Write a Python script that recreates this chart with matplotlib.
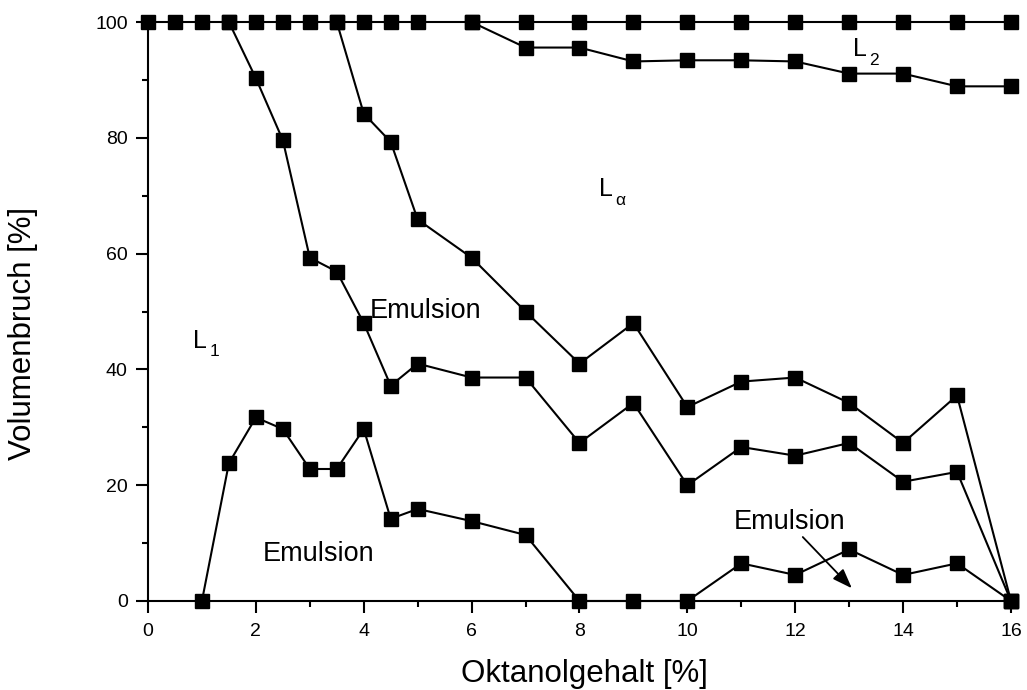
import matplotlib
matplotlib.use("Agg")
import matplotlib.pyplot as plt
import numpy as np

plt.rcParams['font.family'] = ['Liberation Sans', 'DejaVu Sans']

# top line (upper limit, 100 %)
x_top = [0, 0.5, 1, 1.5, 2, 2.5, 3, 3.5, 4, 4.5, 5, 6, 7, 8, 9, 10, 11, 12, 13, 14, 15, 16]
y_top = [100] * len(x_top)

# L2 boundary
x_l2 = [6, 7, 8, 9, 10, 11, 12, 13, 14, 15, 16]
y_l2 = [100, 95.6, 95.6, 93.2, 93.4, 93.4, 93.2, 91.1, 91.1, 88.9, 88.9]

# L_alpha / emulsion boundary
x_la = [3.5, 4, 4.5, 5, 6, 7, 8, 9, 10, 11, 12, 13, 14, 15, 16]
y_la = [100, 84.2, 79.3, 65.9, 59.3, 50.0, 41.0, 48.0, 33.5, 37.9, 38.6, 34.2, 27.3, 35.5, 0]

# middle emulsion boundary
x_em = [1.5, 2, 2.5, 3, 3.5, 4, 4.5, 5, 6, 7, 8, 9, 10, 11, 12, 13, 14, 15, 16]
y_em = [100, 90.3, 79.6, 59.3, 56.9, 48.0, 37.2, 41.0, 38.6, 38.6, 27.3, 34.2, 20.0, 26.6, 25.1, 27.3, 20.6, 22.3, 0]

# lower boundary
x_lo = [1, 1.5, 2, 2.5, 3, 3.5, 4, 4.5, 5, 6, 7, 8, 9, 10, 11, 12, 13, 14, 15, 16]
y_lo = [0, 23.8, 31.7, 29.7, 22.8, 22.8, 29.7, 14.2, 15.9, 13.8, 11.4, 0, 0, 0, 6.5, 4.5, 8.9, 4.5, 6.5, 0]

# region labels: (main, subscript, x, y)
phase_labels = [("L", "1", 0.83, 43.7), ("L", "\u03b1", 8.36, 69.9), ("L", "2", 13.07, 94.1)]
emulsion_labels = [(4.12, 48.9), (2.13, 6.9), (10.86, 12.4)]
arrow_from = (12.14, 11.05)
arrow_to = (13.05, 2.2)

fig = plt.figure(figsize=(10.27, 6.9), dpi=100)
ax = fig.add_axes([0.1441, 0.129, 0.8403, 0.839])

style = dict(color='black', lw=1.5, marker='s', ms=9.5, mfc='black', mec='black', clip_on=False, zorder=3)
for xs, ys in [(x_top, y_top), (x_l2, y_l2), (x_la, y_la), (x_em, y_em), (x_lo, y_lo)]:
    ax.plot(xs, ys, **style)

ax.set_xlim(0, 16)
ax.set_ylim(0, 100)
ax.set_xticks(np.arange(0, 17, 2))
ax.set_xticks(np.arange(1, 16, 2), minor=True)
ax.set_yticks(np.arange(0, 101, 20))
ax.set_yticks(np.arange(10, 100, 20), minor=True)

for s in ['top', 'right']:
    ax.spines[s].set_visible(False)
for s in ['left', 'bottom']:
    ax.spines[s].set_linewidth(1.5)

ax.tick_params(which='major', length=8.5, width=1.5, labelsize=14, direction='out')
ax.tick_params(which='minor', length=4.3, width=1.5, direction='out')
ax.tick_params(axis='x', which='major', pad=7)
ax.tick_params(axis='y', which='major', pad=6)

ax.set_xlabel("Oktanolgehalt [%]", fontsize=22.5)
ax.set_ylabel("Volumenbruch [%]", fontsize=22.5)
ax.xaxis.set_label_coords(0.506, -0.100)
ax.yaxis.set_label_coords(-0.127, 0.463)

for main, sub, x, y in phase_labels:
    ax.text(x, y, main, fontsize=18, va='baseline', ha='left')
    ax.annotate(sub, xy=(x, y), xytext=(12, -6), textcoords='offset points',
                fontsize=12.5, va='baseline', ha='left')

for x, y in emulsion_labels:
    ax.text(x, y, "Emulsion", fontsize=19.5, va='baseline', ha='left')

ax.annotate("", xy=arrow_to, xytext=arrow_from,
            arrowprops=dict(arrowstyle='-|>,head_length=0.6,head_width=0.22', color='black', lw=1.3,
                            mutation_scale=20, shrinkA=0, shrinkB=0))

fig.savefig("out.png", dpi=100)
